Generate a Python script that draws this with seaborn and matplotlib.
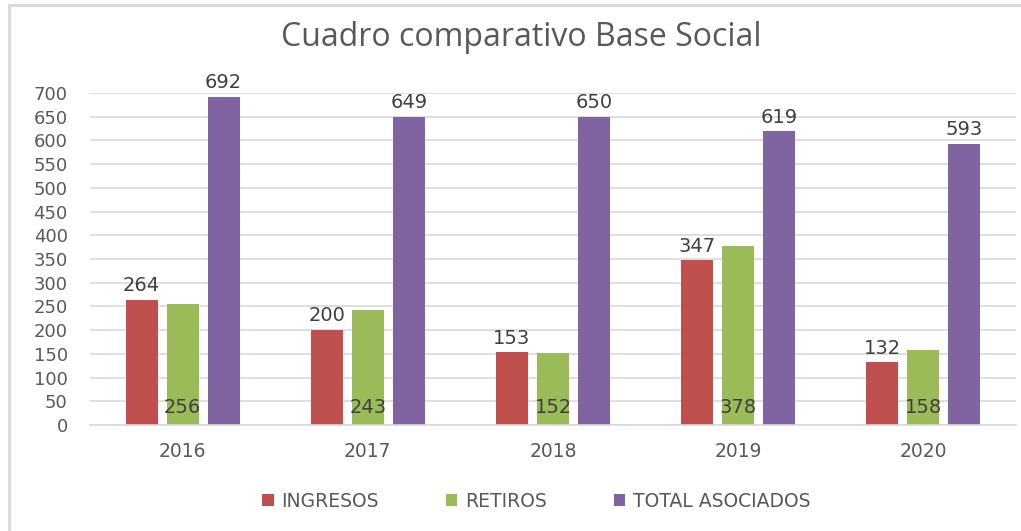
import matplotlib.pyplot as plt
import matplotlib.lines as mlines
import seaborn as sns
import pandas as pd

# Datos del cuadro comparativo
years = ["2016", "2017", "2018", "2019", "2020"]
ingresos = [264, 200, 153, 347, 132]
retiros = [256, 243, 152, 378, 158]
total = [692, 649, 650, 619, 593]
series = ["INGRESOS", "RETIROS", "TOTAL ASOCIADOS"]
colors = ["#C0504D", "#9BBB59", "#8064A2"]

df = pd.DataFrame({
    "year": years * 3,
    "value": ingresos + retiros + total,
    "serie": [s for s in series for _ in years],
})

sns.set_style("white")
plt.rcParams["font.family"] = ["DejaVu Sans"]
gray = "#595959"

fig = plt.figure(figsize=(10.21, 5.31), dpi=100)
ax = fig.add_axes([90 / 1021, 1 - 425 / 531, 926 / 1021, 332 / 531])

sns.barplot(data=df, x="year", y="value", hue="serie", palette=colors,
            width=0.665, gap=0.22, ax=ax, legend=True, saturation=1,
            edgecolor="none")

ax.set_ylim(0, 700)
ax.set_yticks(range(0, 701, 50))
ax.yaxis.grid(True, color="#D9D9D9", linewidth=1.2)
ax.set_axisbelow(True)
for s in ["top", "right", "left"]:
    ax.spines[s].set_visible(False)
ax.spines["bottom"].set_color("#D9D9D9")
ax.spines["bottom"].set_linewidth(1.2)
ax.set_xlabel("")
ax.set_ylabel("")
ax.tick_params(axis="y", length=0, labelsize=13, colors=gray, pad=16)
ax.tick_params(axis="x", length=0, labelsize=13.5, colors=gray, pad=12)

# etiquetas de datos
for cont, serie in zip(ax.containers, series):
    for bar in cont:
        h = bar.get_height()
        x = bar.get_x() + bar.get_width() / 2
        if serie == "RETIROS":
            ax.text(x, 36, f"{int(h)}", ha="center", va="center", fontsize=14, color="#404040")
        else:
            ax.text(x, h + 10, f"{int(h)}", ha="center", va="bottom", fontsize=14, color="#404040")

ax.legend(loc="center", bbox_to_anchor=(0.482, -0.23), ncol=3, frameon=False,
          fontsize=13.5, handlelength=0.6, handleheight=0.6, columnspacing=3.6,
          handletextpad=0.4, labelcolor=gray)

fig.text(0.511, 1 - 38 / 531, "Cuadro comparativo Base Social", ha="center", va="center",
         fontsize=23, color=gray, family=["Open Sans", "DejaVu Sans"])

# marco del gráfico
fig.add_artist(mlines.Line2D([9 / 1021, 1], [1 - 5 / 531, 1 - 5 / 531], color="#D9D9D9", lw=2))
fig.add_artist(mlines.Line2D([9 / 1021, 9 / 1021], [0, 1 - 5 / 531], color="#D9D9D9", lw=2))

fig.savefig("out.png", dpi=100)
